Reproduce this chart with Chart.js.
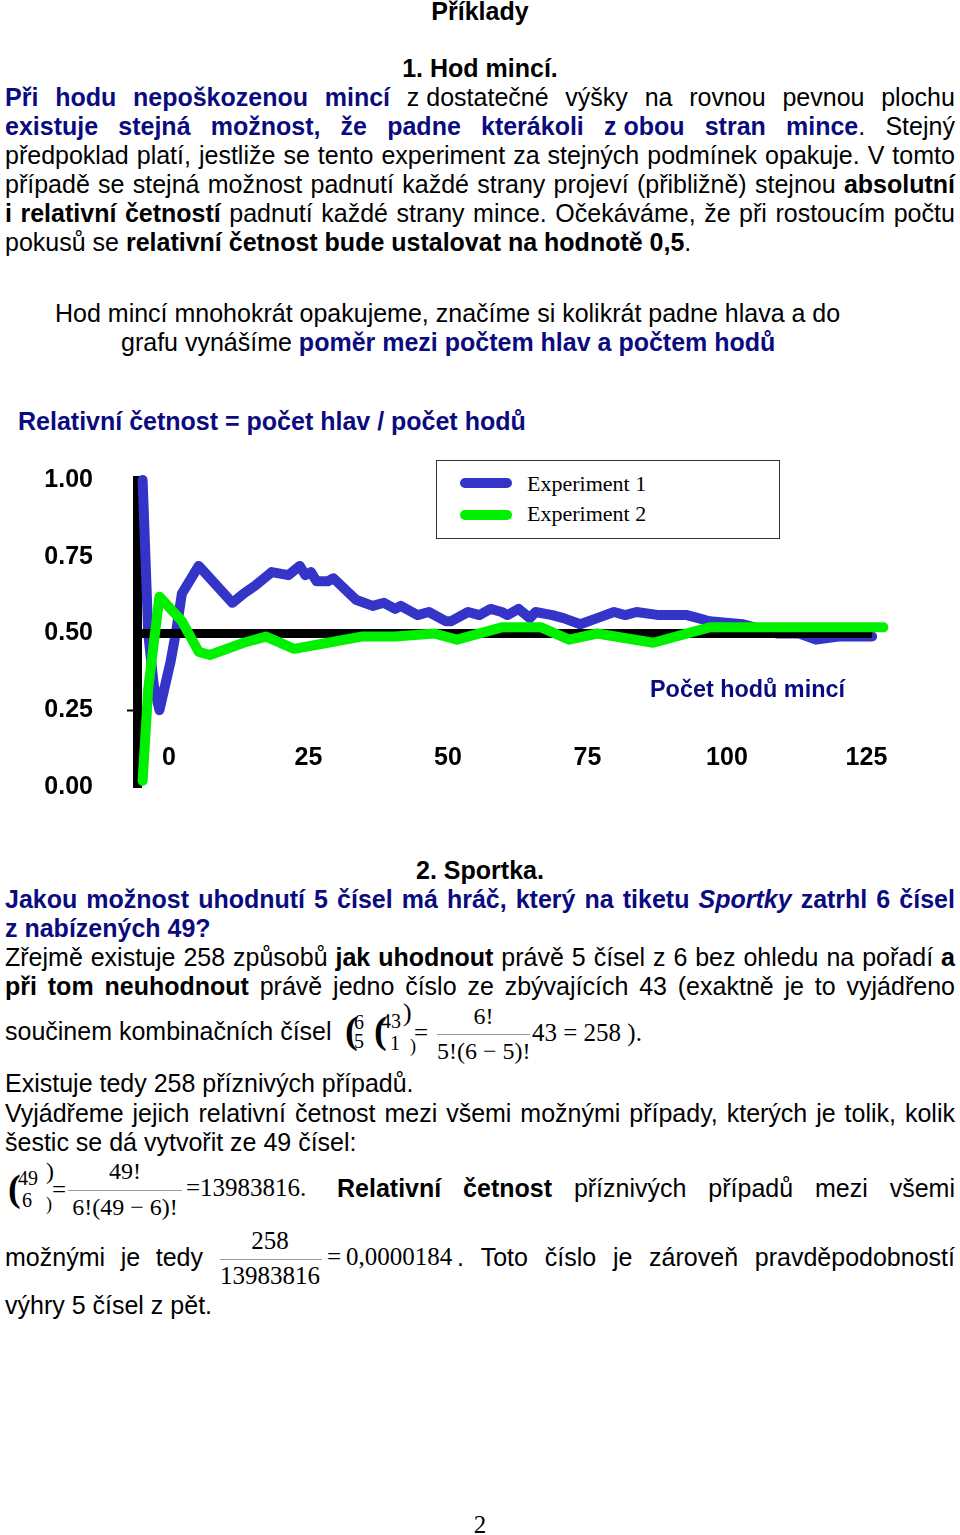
<!DOCTYPE html>
<html lang="cs">
<head>
<meta charset="utf-8">
<title>Příklady</title>
<script src="https://cdn.jsdelivr.net/npm/chart.js@4/dist/chart.umd.min.js"></script>
<style>
html, body { margin: 0; padding: 0; background: #fff; }
#stranka { position: relative; width: 960px; height: 1535px; overflow: hidden;
  font-family: "Liberation Sans", Arial, sans-serif; font-size: 25px; color: #000; }
.ln { position: absolute; line-height: 29px; white-space: pre; }
.jf { display: flex; justify-content: space-between; }
.b { font-weight: bold; }
.n { color: #0b0b80; }
.i { font-style: italic; }
.mensi { font-size: 23.4px; }
.tm { position: absolute; font-family: "Liberation Serif", "Times New Roman", serif; white-space: pre; }
.zlomek { position: absolute; height: 1px; background: #9a9a9a; }
#graf-obal { position: absolute; left: 0; top: 440px; width: 960px; height: 370px; }
#legenda { position: absolute; left: 436px; top: 460px; width: 344px; height: 79px; box-sizing: border-box;
  border: 1.5px solid #333; background: #fff; }
.leg-car { position: absolute; left: 23px; width: 52px; height: 10px; border-radius: 5px; }
.leg-text { position: absolute; left: 90px; font-family: "Liberation Serif", "Times New Roman", serif;
  font-size: 22px; line-height: 26px; white-space: pre; }
</style>
</head>
<body>
<div id="stranka">
  <div id="graf-obal"><canvas id="graf" width="960" height="370"></canvas></div>
  <div id="legenda"></div>
</div>
<script>
// hodnoty grafu (počet hodů, relativní četnost hlav)
const hodyExp1 = [1, 2, 3, 4, 5, 6, 7, 8, 9, 11, 14, 17, 19, 21, 24, 27, 29, 30, 31, 32, 34, 35, 39, 42, 44, 46, 47, 50,
  52, 55, 56, 59, 61, 63, 65, 66, 68, 70, 71, 74, 76, 79, 82, 85, 87, 89, 93, 98, 100, 102, 108, 110, 114, 118, 121, 125, 131];
const cetnostExp1 = [1.00, 0.50, 0.33, 0.25, 0.33, 0.41, 0.51, 0.63, 0.66, 0.72, 0.66, 0.60, 0.63, 0.655, 0.70, 0.69, 0.72, 0.69, 0.70, 0.67, 0.67, 0.68, 0.61, 0.59, 0.60, 0.58, 0.59, 0.56,
  0.57, 0.54, 0.54, 0.57, 0.56, 0.58, 0.57, 0.56, 0.58, 0.55, 0.57, 0.56, 0.55, 0.53, 0.55, 0.57, 0.56, 0.57, 0.56, 0.56, 0.55, 0.54, 0.53, 0.52, 0.50, 0.50, 0.48, 0.49, 0.49];
const hodyExp2 = [1, 2, 4, 8, 11, 13, 19, 23, 28, 34, 40, 46, 53, 57, 65, 72, 77, 82, 92, 102, 107, 133];
const cetnostExp2 = [0.02, 0.32, 0.62, 0.54, 0.44, 0.43, 0.47, 0.49, 0.45, 0.47, 0.49, 0.49, 0.50, 0.48, 0.52, 0.52, 0.48, 0.50, 0.47, 0.52, 0.52, 0.52];
const osaHody = [0, 131];
const osaCetnost = [0.5, 0.5];
const popiskyY = [0, 0.25, 0.5, 0.75, 1];
const popiskyX = [0, 25, 50, 75, 100, 125];
const nazvy = ['Experiment 1', 'Experiment 2'];
const barvy = ['#3434c8', '#00f000'];

const pismo = { family: '"Liberation Sans", Arial, sans-serif', size: 25, weight: 'bold' };

const body = (xs, ys) => xs.map((x, i) => ({ x: x, y: ys[i] }));

const graf = new Chart(document.getElementById('graf'), {
  type: 'line',
  data: {
    datasets: [
      { label: nazvy[0], data: body(hodyExp1, cetnostExp1), borderColor: barvy[0], borderWidth: 10, order: 3, xAxisID: 'x', yAxisID: 'y' },
      { label: '', data: body(osaHody, osaCetnost), borderColor: '#000', borderWidth: 9, borderCapStyle: 'butt', order: 2, xAxisID: 'x', yAxisID: 'y' },
      { label: nazvy[1], data: body(hodyExp2, cetnostExp2), borderColor: barvy[1], borderWidth: 10, order: 1, xAxisID: 'x', yAxisID: 'y' }
    ]
  },
  options: {
    responsive: false,
    animation: false,
    devicePixelRatio: 1,
    events: [],
    layout: { padding: { top: 40, right: 71, bottom: 23, left: 0 } },
    elements: {
      point: { radius: 0, hoverRadius: 0 },
      line: { tension: 0, fill: false, borderCapStyle: 'round', borderJoinStyle: 'round' }
    },
    datasets: { line: { clip: false } },
    plugins: { legend: { display: false }, tooltip: { enabled: false } },
    scales: {
      x: { type: 'linear', display: false, min: 0, max: 134 },
      xt: {
        type: 'linear', axis: 'x', position: { y: 0.5 }, min: -5.74, max: 129.04,
        afterBuildTicks: s => { s.ticks = popiskyX.map(v => ({ value: v })); },
        afterFit: s => { s.height = 0; s.paddingLeft = 0; s.paddingRight = 0; s.paddingTop = 0; s.paddingBottom = 0; },
        grid: { display: false, drawTicks: false },
        border: { display: false },
        ticks: { padding: 110, font: pismo, color: '#000', autoSkip: false, maxRotation: 0 }
      },
      y: {
        min: 0, max: 1,
        afterBuildTicks: s => { s.ticks = popiskyY.map(v => ({ value: v })); },
        afterFit: s => { s.width = 137; s.paddingTop = 0; s.paddingBottom = 0; s.paddingLeft = 0; s.paddingRight = 0; },
        ticks: { padding: 34, font: pismo, color: '#000', callback: v => v.toFixed(2) },
        grid: { drawOnChartArea: false, tickLength: 10, tickWidth: 2,
          tickColor: c => (c.tick && c.tick.value === 0.25) ? '#000' : 'rgba(0,0,0,0)' },
        border: { color: '#000', width: 9 }
      }
    }
  }
});

// legenda z datových řad
const legenda = document.getElementById('legenda');
graf.data.datasets.filter(d => d.label).forEach((d, i) => {
  const car = document.createElement('div');
  car.className = 'leg-car';
  car.style.top = (17 + i * 32) + 'px';
  car.style.background = d.borderColor;
  legenda.appendChild(car);
  const t = document.createElement('div');
  t.className = 'leg-text';
  t.style.top = (10 + i * 30) + 'px';
  t.textContent = d.label;
  legenda.appendChild(t);
});

// text stránky
const stranka = document.getElementById('stranka');

function radek(cy, left, width, align, segs) {
  const d = document.createElement('div');
  d.className = 'ln';
  d.style.top = (cy - 14) + 'px';
  d.style.left = left + 'px';
  if (width) d.style.width = width + 'px';
  if (align === 'c') d.style.textAlign = 'center';
  if (align === 'j') {
    d.classList.add('jf');
    const slova = [[]];
    segs.forEach(([cls, txt]) => {
      txt.split(' ').forEach((part, i) => {
        if (i > 0) slova.push([]);
        if (part) slova[slova.length - 1].push([cls, part]);
      });
    });
    slova.filter(w => w.length).forEach(w => {
      const s = document.createElement('span');
      w.forEach(([cls, part]) => {
        const p = document.createElement('span');
        p.className = cls;
        p.textContent = part;
        s.appendChild(p);
      });
      d.appendChild(s);
    });
  } else {
    segs.forEach(([cls, txt]) => {
      const p = document.createElement('span');
      p.className = cls;
      p.textContent = txt;
      d.appendChild(p);
    });
  }
  stranka.appendChild(d);
}

function vzorec(cy, left, txt, size, opts) {
  opts = opts || {};
  const d = document.createElement('div');
  d.className = 'tm';
  d.style.fontSize = size + 'px';
  d.style.lineHeight = Math.round(size * 1.2) + 'px';
  d.style.top = (cy - 0.61 * size) + 'px';
  d.style.left = left + 'px';
  if (opts.width) { d.style.width = opts.width + 'px'; d.style.textAlign = 'center'; }
  if (opts.bold) d.style.fontWeight = 'bold';
  d.textContent = txt;
  stranka.appendChild(d);
}

function cara(y, x1, x2) {
  const d = document.createElement('div');
  d.className = 'zlomek';
  d.style.top = y + 'px';
  d.style.left = x1 + 'px';
  d.style.width = (x2 - x1) + 'px';
  stranka.appendChild(d);
}

radek(11, 0, 960, 'c', [['b', 'Příklady']]);
radek(68, 0, 960, 'c', [['b', '1. Hod mincí.']]);
radek(97, 5, 950, 'j', [['b n', 'Při hodu nepoškozenou mincí'], ['', ' z\u00a0dostatečné výšky na rovnou pevnou plochu']]);
radek(126, 5, 950, 'j', [['b n', 'existuje stejná možnost, že padne kterákoli z\u00a0obou stran mince'], ['', '. Stejný']]);
radek(155, 5, 950, 'j', [['', 'předpoklad platí, jestliže se tento experiment za stejných podmínek opakuje. V tomto']]);
radek(184, 5, 950, 'j', [['', 'případě se stejná možnost padnutí každé strany projeví (přibližně) stejnou '], ['b', 'absolutní']]);
radek(213, 5, 950, 'j', [['b', 'i relativní četností'], ['', ' padnutí každé strany mince. Očekáváme, že při rostoucím počtu']]);
radek(242, 5, 0, 'l', [['', 'pokusů se '], ['b', 'relativní četnost bude ustalovat na hodnotě 0,5'], ['', '.']]);
radek(313, 55, 0, 'l', [['', 'Hod mincí mnohokrát opakujeme, značíme si kolikrát padne hlava a do']]);
radek(342, 121, 0, 'l', [['', 'grafu vynášíme '], ['b n', 'poměr mezi počtem hlav a počtem hodů']]);
radek(421, 18, 0, 'l', [['b n', 'Relativní četnost = počet hlav / počet hodů']]);
radek(688, 650, 0, 'l', [['b n mensi', 'Počet hodů mincí']]);

radek(870, 0, 960, 'c', [['b', '2. Sportka.']]);
radek(899, 5, 950, 'j', [['b n', 'Jakou možnost uhodnutí 5 čísel má hráč, který na tiketu '], ['b n i', 'Sportky'], ['b n', ' zatrhl 6 čísel']]);
radek(928, 5, 0, 'l', [['b n', 'z nabízených 49?']]);
radek(957, 5, 950, 'j', [['', 'Zřejmě existuje 258 způsobů '], ['b', 'jak uhodnout'], ['', ' právě 5 čísel z 6 bez ohledu na pořadí '], ['b', 'a']]);
radek(986, 5, 950, 'j', [['b', 'při tom neuhodnout'], ['', ' právě jedno číslo ze zbývajících 43 (exaktně je to vyjádřeno']]);
radek(1031, 5, 0, 'l', [['', 'součinem kombinačních čísel']]);
radek(1083, 5, 0, 'l', [['', 'Existuje tedy 258 příznivých případů.']]);
radek(1113, 5, 950, 'j', [['', 'Vyjádřeme jejich relativní četnost mezi všemi možnými případy, kterých je tolik, kolik']]);
radek(1142, 5, 0, 'l', [['', 'šestic se dá vytvořit ze 49 čísel:']]);
radek(1188, 337, 618, 'j', [['b', 'Relativní četnost'], ['', ' příznivých případů mezi všemi']]);
radek(1257, 5, 198, 'j', [['', 'možnými je tedy']]);
radek(1257, 457, 498, 'j', [['', '. Toto číslo je zároveň pravděpodobností']]);
radek(1305, 5, 0, 'l', [['', 'výhry 5 čísel z pět.']]);

// vzorec 1
vzorec(1030, 345, '(', 38, { bold: true });
vzorec(1022, 354, '6', 20);
vzorec(1041, 354, '5', 20);
vzorec(1030, 374, '(', 38, { bold: true });
vzorec(1021, 381, '43', 20);
vzorec(1043, 390, '1', 20);
vzorec(1013, 403, ')', 26);
vzorec(1046, 410, ')', 18);
vzorec(1033, 414, '=', 25);
vzorec(1017, 437, '6!', 24, { width: 93 });
cara(1034, 437, 530);
vzorec(1052, 437, '5!(6 \u2212 5)!', 24, { width: 93 });
vzorec(1033, 532, '43 = 258 ).', 25);

// vzorec 2
vzorec(1188, 8, '(', 38, { bold: true });
vzorec(1178, 18, '49', 20);
vzorec(1200, 22, '6', 20);
vzorec(1172, 46, ')', 24);
vzorec(1204, 46, ')', 18);
vzorec(1190, 52, '=', 25);
vzorec(1172, 68, '49!', 24, { width: 114 });
cara(1190, 68, 182);
vzorec(1208, 68, '6!(49 \u2212 6)!', 24, { width: 114 });
vzorec(1188, 186, '=13983816.', 25);

// vzorec 3
vzorec(1241, 220, '258', 25, { width: 100 });
cara(1259, 220, 322);
vzorec(1276, 220, '13983816', 25, { width: 100 });
vzorec(1257, 327, '=\u20090,0000184', 25);

vzorec(1525, 0, '2', 25, { width: 960 });
</script>
</body>
</html>
